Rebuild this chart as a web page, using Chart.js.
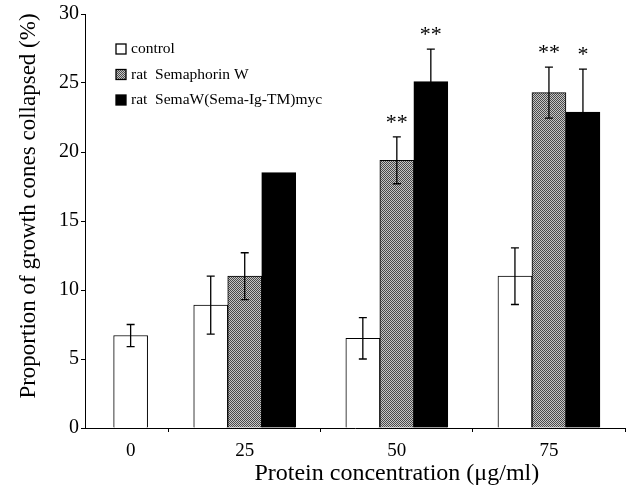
<!DOCTYPE html>
<html>
<head>
<meta charset="utf-8">
<script src="https://cdn.jsdelivr.net/npm/chart.js@4.4.1/dist/chart.umd.min.js"></script>
<style>
  body { margin: 0; background: #fff; }
  #wrap { width: 633px; height: 492px; }
</style>
</head>
<body>
<div id="wrap"><canvas id="chart" width="633" height="492"></canvas></div>
<script>
const concentrations = ['0', '25', '50', '75'];

const controlMeans = [6.7, 8.9, 6.5, 11.0];
const controlErrors = [0.8, 2.1, 1.5, 2.05];

const semaWMeans = [null, 11.0, 19.4, 24.3];
const semaWErrors = [null, 1.7, 1.7, 1.85];
const semaWStars = ['', '', '**', '**'];

const mycMeans = [null, 18.5, 25.1, 22.9];
const mycErrors = [null, null, 2.35, 3.1];
const mycStars = ['', '', '**', '*'];

const yTicks = [0, 5, 10, 15, 20, 25, 30];

const serif = '"Liberation Serif", "DejaVu Serif", serif';

document.addEventListener("DOMContentLoaded", function () {
    const canvas = document.getElementById("chart");
    const ctx = canvas.getContext("2d");

    // the 0 group sits in a half-width slot at the left end of the axis
    const groupSlots = [0.25, 1, 2, 3];
    const slotEdges = [0.5, 1.5, 2.5, 3.5];

    function points(values) {
        return values.map((v, i) => ({ x: groupSlots[i], y: v }));
    }

    // stippled grey used for the Semaphorin W bars
    const tile = document.createElement("canvas");
    tile.width = 2;
    tile.height = 2;
    const t = tile.getContext("2d");
    t.fillStyle = "#c6c6c6";
    t.fillRect(0, 0, 2, 2);
    t.fillStyle = "#4a4a4a";
    t.fillRect(0, 0, 1, 1);
    t.fillRect(1, 1, 1, 1);
    const stipple = ctx.createPattern(tile, "repeat");

    const errorBars = {
        id: "errorBars",
        afterDatasetsDraw(chart) {
            const c = chart.ctx;
            const y = chart.scales.y;
            c.save();
            c.strokeStyle = "#000";
            c.fillStyle = "#000";
            c.lineWidth = 1.3;
            c.font = `22px ${serif}`;
            c.textAlign = "center";
            c.textBaseline = "alphabetic";
            chart.data.datasets.forEach((ds, di) => {
                const meta = chart.getDatasetMeta(di);
                meta.data.forEach((bar, i) => {
                    const mean = ds.data[i].y;
                    const err = ds.errors[i];
                    if (mean == null) return;
                    let top = y.getPixelForValue(mean);
                    if (err) {
                        top = y.getPixelForValue(mean + err);
                        const bottom = y.getPixelForValue(mean - err);
                        c.beginPath();
                        c.moveTo(bar.x, top);
                        c.lineTo(bar.x, bottom);
                        c.moveTo(bar.x - 4, top);
                        c.lineTo(bar.x + 4, top);
                        c.moveTo(bar.x - 4, bottom);
                        c.lineTo(bar.x + 4, bottom);
                        c.stroke();
                    }
                    if (ds.stars && ds.stars[i]) c.fillText(ds.stars[i], bar.x, top - 8);
                });
            });
            c.restore();
        }
    };

    const boxLegend = {
        id: "boxLegend",
        afterDraw(chart) {
            const c = chart.ctx;
            const area = chart.chartArea;
            c.save();
            c.font = `15.5px ${serif}`;
            c.textBaseline = "middle";
            chart.data.datasets.forEach((ds, i) => {
                const x = area.left + 31;
                const y = area.top + 35 + i * 25.5;
                c.fillStyle = ds.backgroundColor;
                c.fillRect(x, y - 5, 10, 10);
                c.strokeStyle = "#000";
                c.lineWidth = 1.3;
                c.strokeRect(x, y - 5, 10, 10);
                c.fillStyle = "#000";
                c.fillText(ds.label, x + 15, y);
            });
            c.restore();
        }
    };

    // axis titles: x is centred under the 25-75 groups, y sits a little above the middle
    const axisTitles = {
        id: "axisTitles",
        afterDraw(chart) {
            const c = chart.ctx;
            const area = chart.chartArea;
            c.save();
            c.fillStyle = "#000";
            c.textAlign = "center";
            c.textBaseline = "alphabetic";
            c.font = `24px ${serif}`;
            c.fillText("Protein concentration (\u03bcg/ml)", chart.scales.x.getPixelForValue(groupSlots[2]), area.bottom + 52);
            c.translate(29, area.top + 192);
            c.rotate(-Math.PI / 2);
            c.textBaseline = "middle";
            c.font = `23px ${serif}`;
            c.fillText("Proportion of growth cones collapsed (%)", 0, 0);
            c.restore();
        }
    };

    new Chart(ctx, {
        type: "bar",
        data: {
            datasets: [
                {
                    label: "control",
                    data: points(controlMeans),
                    errors: controlErrors,
                    backgroundColor: "#ffffff"
                },
                {
                    label: "rat  Semaphorin W",
                    data: points(semaWMeans),
                    errors: semaWErrors,
                    stars: semaWStars,
                    backgroundColor: stipple
                },
                {
                    label: "rat  SemaW(Sema-Ig-TM)myc",
                    data: points(mycMeans),
                    errors: mycErrors,
                    stars: mycStars,
                    backgroundColor: "#000000"
                }
            ]
        },
        options: {
            responsive: false,
            animation: false,
            layout: { padding: { left: 0, right: 7, top: 13, bottom: 0 } },
            datasets: {
                bar: {
                    borderColor: "#000",
                    borderWidth: 1,
                    barThickness: 34,
                    skipNull: true
                }
            },
            plugins: {
                legend: { display: false },
                tooltip: { enabled: false }
            },
            scales: {
                x: {
                    type: "linear",
                    min: -0.05,
                    max: 3.5,
                    bounds: "data",
                    offset: false,
                    afterBuildTicks(scale) {
                        scale.ticks = groupSlots.concat(slotEdges)
                            .sort((a, b) => a - b)
                            .map(v => ({ value: v }));
                    },
                    afterFit(scale) { scale.height = 64; },
                    ticks: {
                        autoSkip: false,
                        maxRotation: 0,
                        padding: 8,
                        color: "#000",
                        font: { family: serif, size: 19 },
                        callback: v => {
                            const i = groupSlots.indexOf(v);
                            return i >= 0 ? concentrations[i] : "";
                        }
                    },
                    grid: {
                        offset: false,
                        drawOnChartArea: false,
                        tickLength: 4,
                        tickColor: c => (c.tick && slotEdges.includes(c.tick.value)) ? "#000" : "rgba(0,0,0,0)"
                    },
                    border: { color: "#000", width: 1 }
                },
                y: {
                    min: 0,
                    max: 30,
                    afterBuildTicks(scale) {
                        scale.ticks = yTicks.map(v => ({ value: v }));
                    },
                    afterFit(scale) { scale.width = 85; },
                    ticks: {
                        padding: 2,
                        color: "#000",
                        font: { family: serif, size: 20 }
                    },
                    grid: {
                        drawOnChartArea: false,
                        tickLength: 4,
                        tickColor: "#000"
                    },
                    border: { color: "#000", width: 1 }
                }
            }
        },
        plugins: [errorBars, boxLegend, axisTitles]
    });
});
</script>
</body>
</html>
